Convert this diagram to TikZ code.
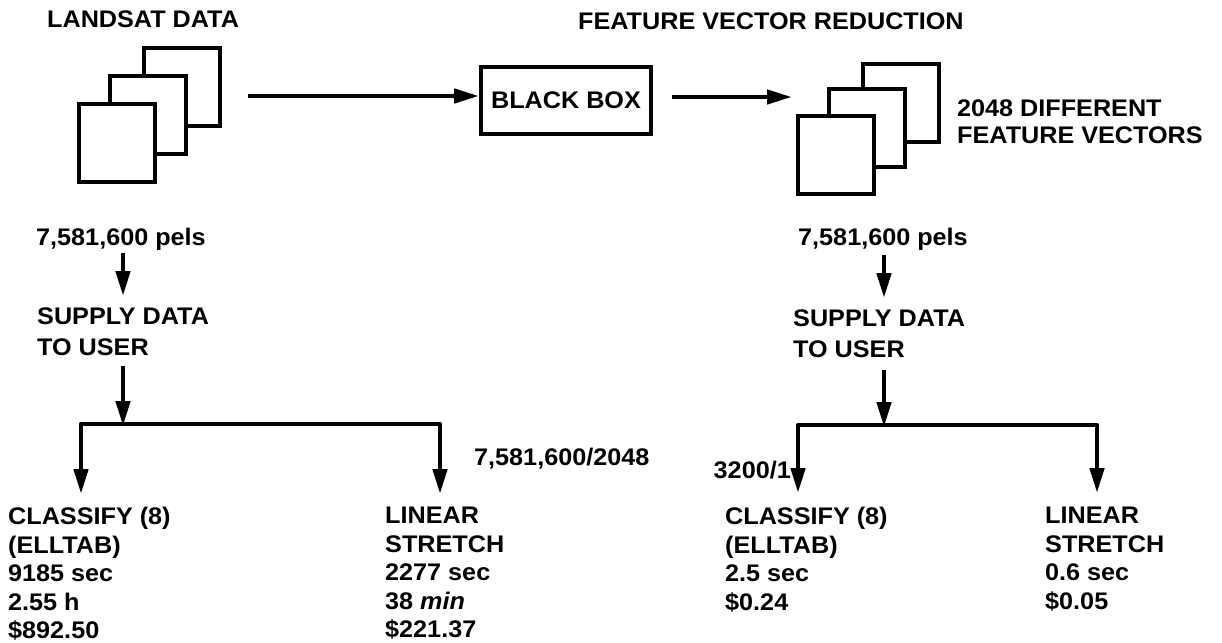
\documentclass[tikz,border=0pt]{standalone}
\usepackage{fontspec}
\setmainfont{Liberation Sans}[FakeStretch=1.05]
\usetikzlibrary{arrows.meta}
\begin{document}
\begin{tikzpicture}[x=1pt,y=-1pt,
  txt/.style={font=\fontsize{24}{28.5}\selectfont\bfseries, inner sep=0pt, anchor=base west},
  blk/.style={txt, align=left, anchor=north west},
  sblk/.style={blk, font=\fontsize{24}{31}\selectfont\bfseries},
  page/.style={draw, line width=4pt, fill=white, minimum width=76pt, minimum height=78pt, inner sep=0pt},
  bbox/.style={draw, line width=4pt, minimum width=170pt, minimum height=67pt, inner sep=0pt,
    font=\fontsize{24}{28.5}\selectfont\bfseries},
  arr/.style={line width=4.5pt, -{Triangle[length=25pt,width=14pt]}},
  twoarr/.style={line width=4.5pt, line join=round, {Triangle[length=25pt,width=14pt]}-{Triangle[length=25pt,width=14pt]}},
  ]
\useasboundingbox (0,0) rectangle (1222,642);
% titles
\node[txt] (tl) at (47,28) {LANDSAT DATA};
\node[txt] (tr) at (578,30) {FEATURE VECTOR REDUCTION};
% left stack
\node[page] (L3) at (182,87) {};
\node[page] (L2) at (148,115) {};
\node[page] (L1) at (117,142.5) {};
% black box
\node[bbox] (bb) at (566,100.5) {BLACK BOX};
% right stack
\node[page] (R3) at (901,103) {};
\node[page] (R2) at (867,128) {};
\node[page] (R1) at (835.5,155) {};
\node[blk, font=\fontsize{24}{27}\selectfont\bfseries] (fv) at (957,100) {2048 DIFFERENT\\FEATURE VECTORS};
% horizontal arrows
\coordinate (a1s) at (248,96);
\draw[arr] (a1s) -- (a1s -| bb.west);
\coordinate (a2s) at (672,97);
\coordinate (a2e) at (792,97);
\draw[arr] (a2s) -- (a2e);
% left column
\node[txt] (pL) at (36,245) {7,581,600 pels};
\coordinate (pLa) at (123,253);
\coordinate (pLb) at (123,296);
\draw[arr] (pLa) -- (pLb);
\node[sblk] (sdL) at (37,308) {SUPPLY DATA\\TO USER};
\coordinate (sdLa) at (123,366);
\coordinate (jL) at (123,426);
\draw[arr] (sdLa) -- (jL);
\coordinate (bL) at (81,424);
\coordinate (bR) at (440,424);
\coordinate (tL) at (81,494);
\coordinate (tR) at (440,494);
\draw[twoarr] (tL) -- (bL) -- (bR) -- (tR);
\node[txt] (rL) at (474,465) {7,581,600/2048};
\node[blk] (cL) at (8,507) {CLASSIFY (8)\\(ELLTAB)\\9185 sec\\2.55 h\\\$892.50};
\node[blk] (lL) at (385,507) {LINEAR\\STRETCH\\2277 sec\\38 \textit{min}\\\$221.37};
% right column
\node[txt] (pR) at (798,245) {7,581,600 pels};
\coordinate (pRa) at (884,255);
\coordinate (pRb) at (884,298);
\draw[arr] (pRa) -- (pRb);
\node[sblk] (sdR) at (793,310) {SUPPLY DATA\\TO USER};
\coordinate (sdRa) at (884,370);
\coordinate (jR) at (884,427);
\draw[arr] (sdRa) -- (jR);
\coordinate (bL2) at (798,425);
\coordinate (bR2) at (1097,425);
\coordinate (tL2) at (798,493);
\coordinate (tR2) at (1097,493);
\draw[twoarr] (tL2) -- (bL2) -- (bR2) -- (tR2);
\node[txt, anchor=base east] (rR) at (791,478) {3200/1};
\node[blk] (cR) at (725,507) {CLASSIFY (8)\\(ELLTAB)\\2.5 sec\\\$0.24};
\node[blk] (lR) at (1045,507) {LINEAR\\STRETCH\\0.6 sec\\\$0.05};
\end{tikzpicture}
\end{document}
